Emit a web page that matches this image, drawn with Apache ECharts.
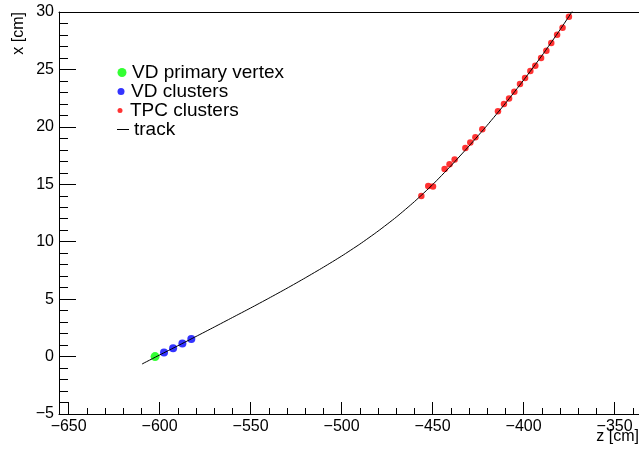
<!DOCTYPE html>
<html><head><meta charset="utf-8">
<script src="https://cdn.jsdelivr.net/npm/echarts@6/dist/echarts.min.js"></script>
<style>html,body{margin:0;padding:0;background:#fff}#c{width:639px;height:452px}</style>
</head><body><div id="c"></div>
<script>
const xMajorTicks = [-650, -600, -550, -500, -450, -400, -350];
const xMinorTicks = [-640, -630, -620, -610, -590, -580, -570, -560, -540, -530, -520, -510,
  -490, -480, -470, -460, -440, -430, -420, -410, -390, -380, -370, -360, -340];
const legendNames = ['VD primary vertex', 'VD clusters', 'TPC clusters', 'track'];
const vertexPoint = [[-602.5, 0.0]];
const vdClusters = [[-597.6, 0.35], [-592.6, 0.73], [-587.5, 1.13], [-582.6, 1.54]];
const tpcClusters = [
  [-456.2, 13.99], [-452.4, 14.86], [-449.8, 14.80], [-443.4, 16.34], [-440.7, 16.74],
  [-437.9, 17.15], [-432.0, 18.16], [-429.3, 18.63], [-426.5, 19.09], [-422.7, 19.79],
  [-414.1, 21.36], [-410.8, 21.99], [-408.0, 22.46], [-405.1, 23.06], [-402.0, 23.73],
  [-399.2, 24.26], [-396.3, 24.87], [-393.6, 25.33], [-390.4, 26.00], [-387.5, 26.63],
  [-384.8, 27.30], [-381.6, 28.03], [-378.6, 28.63], [-375.1, 29.59]
];
const trackPoints = [
  [-609.7, -0.65], [-600, 0.14], [-590, 0.94], [-580, 1.75], [-570, 2.57], [-560, 3.40],
  [-550, 4.23], [-540, 5.08], [-530, 5.95], [-520, 6.85], [-510, 7.78], [-500, 8.75],
  [-490, 9.79], [-480, 10.92], [-470, 12.14], [-460, 13.49], [-450, 14.97], [-440, 16.60],
  [-430, 18.33], [-420, 20.14], [-410, 22.05], [-400, 24.07], [-390, 26.19], [-380, 28.45],
  [-370, 30.84]
];

const FONT = "'Liberation Sans', Arial, sans-serif";
const fmt = v => String(v).replace('-', '\u2212');
const X_MIN = -655.3, X_MAX = -336.6;

const chart = echarts.init(document.getElementById('c'), null, {renderer: 'canvas'});
const legendBase = {
  orient: 'horizontal', padding: 0, selectedMode: false,
  textStyle: {fontSize: 19, fontFamily: FONT, color: '#000'}
};
chart.setOption({
  animation: false,
  backgroundColor: '#fff',
  grid: {left: 59, top: 12, right: 0, bottom: 38, containLabel: false},
  xAxis: [
    {type: 'value', min: X_MIN, max: X_MAX, position: 'bottom',
      axisLine: {show: true, onZero: false, lineStyle: {color: '#000', width: 1}},
      axisTick: {show: true, inside: true, length: 12, customValues: xMajorTicks, lineStyle: {color: '#000'}},
      axisLabel: {show: true, customValues: xMajorTicks, formatter: fmt, fontSize: 16, fontFamily: FONT, color: '#000', margin: 5},
      splitLine: {show: false}},
    {type: 'value', min: X_MIN, max: X_MAX, position: 'bottom',
      axisLine: {show: false, onZero: false},
      axisTick: {show: true, inside: true, length: 6, customValues: xMinorTicks, lineStyle: {color: '#000'}},
      axisLabel: {show: false}, splitLine: {show: false}},
    {type: 'value', min: X_MIN, max: X_MAX, position: 'top',
      axisLine: {show: true, onZero: false, lineStyle: {color: '#000', width: 1}},
      axisTick: {show: false}, axisLabel: {show: false}, splitLine: {show: false}}
  ],
  yAxis: {
    type: 'value', min: -5, max: 30, interval: 5,
    axisLine: {show: true, onZero: false, lineStyle: {color: '#000', width: 1}},
    axisTick: {show: true, inside: true, length: 17, lineStyle: {color: '#000'}},
    minorTick: {show: true, splitNumber: 5, length: 9, lineStyle: {color: '#000'}},
    axisLabel: {formatter: fmt, fontSize: 16, fontFamily: FONT, color: '#000', margin: 5},
    splitLine: {show: false}, minorSplitLine: {show: false}
  },
  legend: [
    Object.assign({}, legendBase, {data: [{name: legendNames[0], icon: 'circle'}], left: 117.5, top: 63, itemWidth: 10, itemHeight: 9}),
    Object.assign({}, legendBase, {data: [{name: legendNames[1], icon: 'circle'}], left: 117.5, top: 82, itemWidth: 10, itemHeight: 7}),
    Object.assign({}, legendBase, {data: [{name: legendNames[2], icon: 'circle'}], left: 117.5, top: 101, itemWidth: 10, itemHeight: 5}),
    Object.assign({}, legendBase, {data: [{name: legendNames[3], icon: 'rect'}], left: 117, top: 120, itemWidth: 12, itemHeight: 1})
  ],
  graphic: [
    {type: 'text', x: 19, y: 12, rotation: Math.PI / 2,
      style: {text: 'x [cm]', fontSize: 16, fontFamily: FONT, fill: '#000', align: 'right', verticalAlign: 'middle'}},
    {type: 'text', x: 639, y: 437,
      style: {text: 'z [cm]', fontSize: 16, fontFamily: FONT, fill: '#000', align: 'right', verticalAlign: 'middle'}}
  ],
  series: [
    {name: legendNames[0], type: 'scatter', xAxisIndex: 0, data: vertexPoint, symbol: 'circle', symbolSize: 9,
      itemStyle: {color: '#00ff00'}, z: 2},
    {name: legendNames[1], type: 'scatter', xAxisIndex: 0, data: vdClusters, symbol: 'circle', symbolSize: 8,
      itemStyle: {color: '#0000ff'}, z: 2},
    {name: legendNames[2], type: 'scatter', xAxisIndex: 0, data: tpcClusters, symbol: 'circle', symbolSize: 6.5,
      itemStyle: {color: '#ff0000'}, z: 2},
    {name: legendNames[3], type: 'line', xAxisIndex: 0, data: trackPoints, smooth: 0.2, showSymbol: false,
      clip: true, lineStyle: {color: '#000', width: 1}, itemStyle: {color: '#000'}, z: 3}
  ]
});
</script></body></html>
